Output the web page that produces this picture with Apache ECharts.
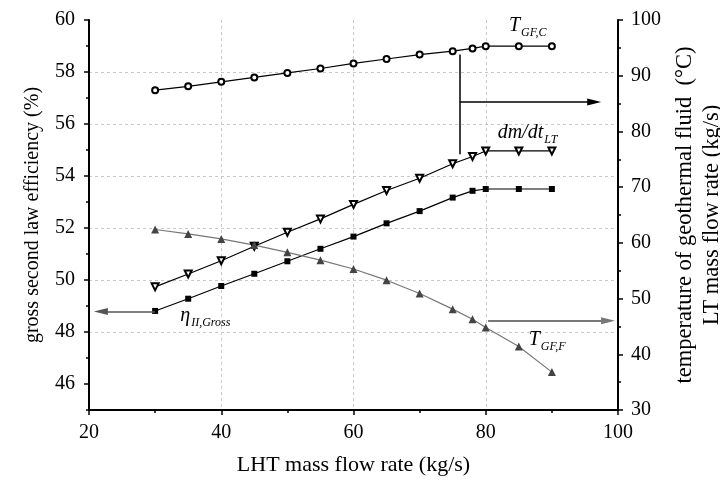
<!DOCTYPE html>
<html>
<head>
<meta charset="utf-8">
<script src="https://cdn.jsdelivr.net/npm/echarts@6/dist/echarts.min.js"></script>
<style>
  html, body { margin: 0; padding: 0; background: #fff; }
  #chart { width: 720px; height: 480px; }
</style>
</head>
<body>
<div id="chart"></div>
<script>
// LHT mass flow rate (kg/s)
const flowLHT = [30, 35, 40, 45, 50, 55, 60, 65, 70, 75, 78, 80, 85, 90];
// gross second law efficiency (%)
const etaGross = [48.81, 49.28, 49.77, 50.24, 50.72, 51.20, 51.67, 52.18, 52.65, 53.17, 53.43, 53.50, 53.50, 53.50];
// LT mass flow rate (kg/s)
const flowLT = [52.1, 54.4, 56.8, 59.4, 61.9, 64.3, 66.9, 69.4, 71.6, 74.2, 75.5, 76.5, 76.5, 76.5];
// geothermal fluid temperatures (°C)
const tempGFC = [87.4, 88.1, 88.9, 89.7, 90.5, 91.3, 92.2, 93.0, 93.8, 94.4, 94.9, 95.3, 95.3, 95.3];
const tempGFF = [62.4, 61.6, 60.7, 59.6, 58.3, 56.9, 55.3, 53.3, 50.9, 48.1, 46.3, 44.8, 41.4, 36.8];
// left axis tick values
const leftMajorTicks = [46, 48, 50, 52, 54, 56, 58, 60];
const leftMinorTicks = [45, 47, 49, 51, 53, 55, 57, 59];

const FONT = 'Liberation Serif';
const pairs = (ys) => flowLHT.map((x, i) => [x, ys[i]]);

function subLabel(main, sub) {
  return {
    show: true,
    position: 'inside',
    align: 'left',
    verticalAlign: 'middle',
    formatter: '{m|' + main + '}{s|' + sub + '}',
    rich: {
      m: { fontFamily: FONT, fontStyle: 'italic', fontSize: 20, color: '#000' },
      s: { fontFamily: FONT, fontStyle: 'italic', fontSize: 12, color: '#000', padding: [14, 0, 0, 1] }
    }
  };
}
// invisible anchor carrying an italic label with a subscript
function note(coord, main, sub) {
  return {
    coord: coord, symbol: 'rect', symbolSize: 1,
    itemStyle: { color: 'rgba(0,0,0,0)' },
    label: subLabel(main, sub)
  };
}

const axisLine = { show: true, lineStyle: { color: '#000', width: 2 } };
const gridDash = { show: true, showMinLine: false, showMaxLine: false,
  lineStyle: { color: '#c8c8c8', type: [3, 3], width: 1 } };
const tickFont = { fontFamily: FONT, fontSize: 20, color: '#000' };

const chart = echarts.init(document.getElementById('chart'));
chart.setOption({
  animation: false,
  textStyle: { fontFamily: FONT },
  grid: { left: 89, right: 102, top: 20, bottom: 70, containLabel: false, outerBoundsMode: 'none' },
  xAxis: {
    type: 'value', min: 20, max: 100, interval: 20,
    name: 'LHT mass flow rate (kg/s)', nameLocation: 'middle', nameGap: 44,
    nameTextStyle: { fontFamily: FONT, fontSize: 22, color: '#000' },
    axisLine: axisLine,
    axisTick: { show: true, inside: false, length: 5, lineStyle: { color: '#000', width: 1.5 } },
    minorTick: { show: true, splitNumber: 2, length: 3, lineStyle: { color: '#000', width: 1.5 } },
    axisLabel: Object.assign({ margin: 13 }, tickFont),
    splitLine: gridDash
  },
  yAxis: [
    {
      type: 'value', position: 'left', min: 45, max: 60, interval: 1,
      name: 'gross second law efficiency (%)', nameLocation: 'middle', nameGap: 46,
      nameTextStyle: { fontFamily: FONT, fontSize: 20, color: '#000' },
      axisLine: axisLine,
      axisTick: { show: true, inside: false, length: 5, customValues: leftMajorTicks,
        lineStyle: { color: '#000', width: 1.5 } },
      axisLabel: Object.assign({ margin: 14, customValues: leftMajorTicks }, tickFont),
      splitLine: gridDash
    },
    {
      type: 'value', position: 'left', min: 45, max: 60, interval: 1,
      axisLine: { show: false },
      axisTick: { show: true, inside: false, length: 3, customValues: leftMinorTicks,
        lineStyle: { color: '#000', width: 1.5 } },
      axisLabel: { show: false },
      splitLine: { show: false }
    },
    {
      type: 'value', position: 'right', min: 30, max: 100, interval: 10,
      name: 'temperature of geothermal fluid  (°C)\nLT mass flow rate (kg/s)',
      nameLocation: 'middle', nameGap: 40,
      nameTextStyle: { fontFamily: FONT, fontSize: 22.5, color: '#000', lineHeight: 27 },
      axisLine: axisLine,
      axisTick: { show: true, inside: false, length: 5, lineStyle: { color: '#000', width: 1.5 } },
      minorTick: { show: true, splitNumber: 2, length: 3, lineStyle: { color: '#000', width: 1.5 } },
      axisLabel: Object.assign({ margin: 13 }, tickFont),
      splitLine: { show: false }
    }
  ],
  series: [
    {
      name: 'eta', type: 'line', yAxisIndex: 0, data: pairs(etaGross),
      symbol: 'rect', symbolSize: 6, showAllSymbol: true,
      itemStyle: { color: '#000' }, lineStyle: { color: '#000', width: 1.2 },
      markPoint: { silent: true, data: [ note([33.8, 48.62], 'η', 'II,Gross') ] },
      markLine: {
        silent: true, symbol: ['none', 'triangle'], symbolSize: [7, 14],
        label: { show: false },
        lineStyle: { color: '#555', width: 1.5, type: 'solid' },
        itemStyle: { color: '#000' },
        data: [ [ { coord: [30, 48.79] }, { coord: [21.8, 48.79] } ] ]
      }
    },
    {
      name: 'dmdt', type: 'line', yAxisIndex: 2, data: pairs(flowLT),
      symbol: 'emptyTriangle', symbolRotate: 180, symbolSize: 7,
      itemStyle: { color: '#000', borderWidth: 1 }, lineStyle: { color: '#000', width: 1.2 },
      markPoint: { silent: true, data: [ note([81.8, 79.7], 'dm/dt', 'LT') ] },
      markLine: {
        silent: true, symbol: ['none', 'none'],
        label: { show: false },
        lineStyle: { color: '#000', width: 1.5, type: 'solid' },
        data: [
          [ { coord: [76.1, 93.8] }, { coord: [76.1, 75.9] } ],
          [ { coord: [76.1, 85.3], symbol: 'none' },
            { coord: [96.4, 85.3], symbol: 'triangle', symbolSize: [7, 14] } ]
        ]
      }
    },
    {
      name: 'tgfc', type: 'line', yAxisIndex: 2, data: pairs(tempGFC),
      symbol: 'emptyCircle', symbolSize: 6,
      itemStyle: { color: '#000', borderWidth: 1 }, lineStyle: { color: '#000', width: 1.2 },
      markPoint: { silent: true, data: [ note([83.5, 98.9], 'T', 'GF,C') ] }
    },
    {
      name: 'tgff', type: 'line', yAxisIndex: 2, data: pairs(tempGFF),
      symbol: 'triangle', symbolSize: 8,
      itemStyle: { color: '#444' }, lineStyle: { color: '#777', width: 1.2 },
      markPoint: { silent: true, data: [ note([86.5, 42.6], 'T', 'GF,F') ] },
      markLine: {
        silent: true, symbol: ['none', 'triangle'], symbolSize: [7, 14],
        label: { show: false },
        lineStyle: { color: '#777', width: 2, type: 'solid' },
        itemStyle: { color: '#555' },
        data: [ [ { coord: [80.35, 46.0] }, { coord: [98.5, 46.0] } ] ]
      }
    }
  ]
});
</script>
</body>
</html>
